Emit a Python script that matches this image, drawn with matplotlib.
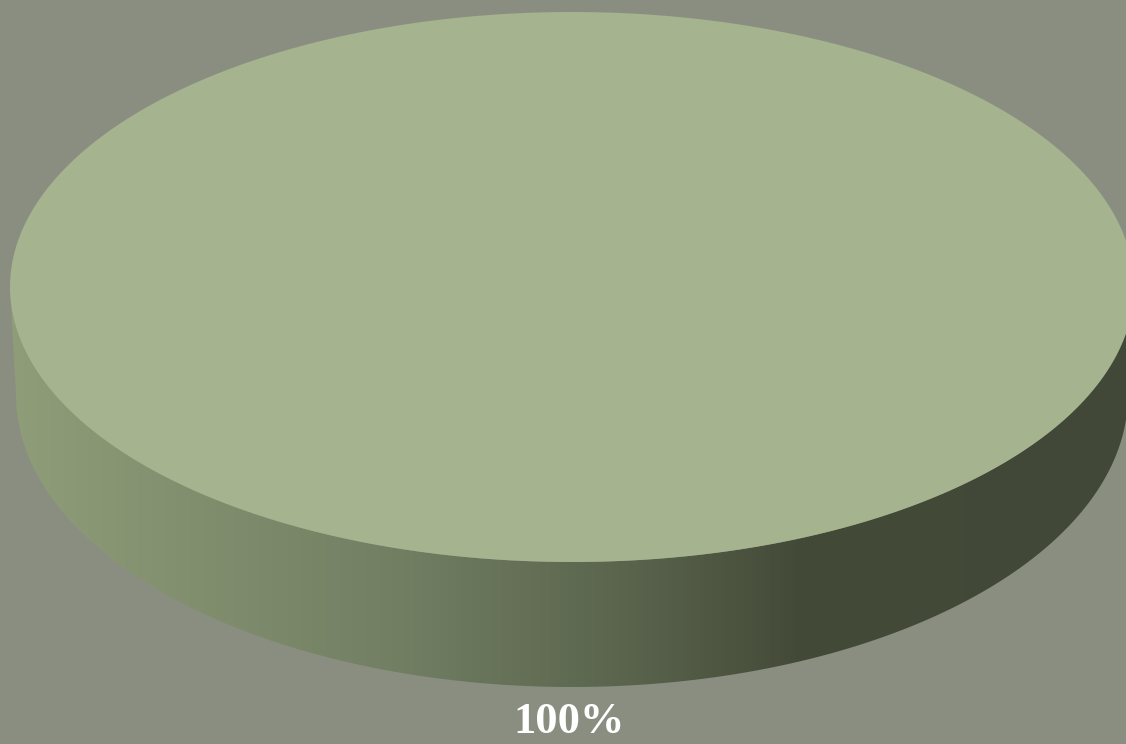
import numpy as np
import matplotlib.pyplot as plt
from matplotlib.patches import Polygon
from matplotlib.colors import LinearSegmentedColormap

# datos del grafico
labels = ['100%']
values = [100]
top_colors = ['#a5b38f']

# geometria del pastel 3D (en pixeles)
W, H = 1126, 744
top_c, top_a, top_b = (572, 287), 562, 275
bot_c, bot_a, bot_b = (572, 395), 556, 292

fig = plt.figure(figsize=(W / 100, H / 100), dpi=100)
fig.patch.set_facecolor('#8a8e81')
ax = fig.add_axes([0, 0, 1, 1])
ax.set_xlim(0, W)
ax.set_ylim(H, 0)
ax.axis('off')


def ellipse_pts(c, a, b, t):
    return np.column_stack([c[0] + a * np.cos(t), c[1] + b * np.sin(t)])


# lado (mitad frontal) con degradado
t = np.linspace(0, np.pi, 200)
front_top = ellipse_pts(top_c, top_a, top_b, t)
front_bot = ellipse_pts(bot_c, bot_a, bot_b, t)[::-1]
side = Polygon(np.vstack([front_top, front_bot]), closed=True, facecolor='none', edgecolor='none')
ax.add_patch(side)

grad_cmap = LinearSegmentedColormap.from_list('side', [
    (0.0, '#8f9d79'), (0.35, '#717e62'), (0.55, '#5a644d'),
    (0.7, '#444a38'), (1.0, '#424837')])
grad = np.linspace(0, 1, 1024).reshape(1, -1)
im = ax.imshow(grad, cmap=grad_cmap, aspect='auto', interpolation='bilinear',
               extent=[top_c[0] - top_a, top_c[0] + top_a, H, 0], zorder=1)
im.set_clip_path(side)

# cara superior: una porcion por valor
fracs = np.array(values) / np.sum(values)
edges = np.concatenate([[0], np.cumsum(fracs)]) * 2 * np.pi
for i in range(len(values)):
    tt = np.linspace(edges[i], edges[i + 1], 400)
    pts = ellipse_pts(top_c, top_a, top_b, tt)
    if fracs[i] < 1:
        pts = np.vstack([[top_c], pts])
    ax.add_patch(Polygon(pts, closed=True, facecolor=top_colors[i], edgecolor='none', zorder=2))

# etiqueta
ax.text(569, 722, labels[0], ha='center', va='center', color='white',
        fontsize=32, fontweight='bold', family=['Liberation Serif', 'DejaVu Serif'])

plt.savefig('out.png', dpi=100, facecolor=fig.get_facecolor())
